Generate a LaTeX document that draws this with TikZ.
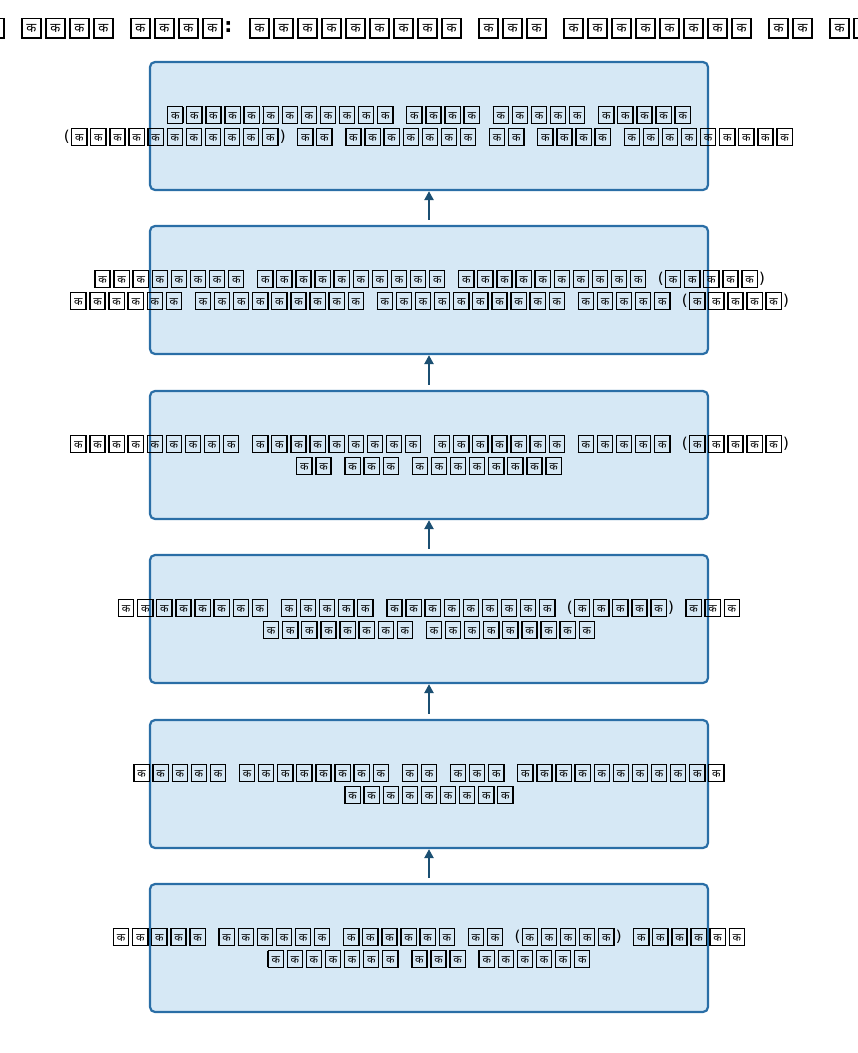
\documentclass[tikz,border=0pt]{standalone}
\usepackage{fontspec}
\setmainfont{DejaVu Sans}
\newfontfamily\devfont[Script=Devanagari]{Noto Sans}
\usetikzlibrary{arrows.meta}
\definecolor{boxfill}{HTML}{D6E8F5}
\definecolor{boxdraw}{HTML}{2A6EA6}
\definecolor{arrowc}{HTML}{1B4F72}
% missing-glyph box as printed in the reference (body size)
\newcommand\gk{\kern1.3pt\relax{\fboxrule=1.3pt\fboxsep=0pt\fbox{\makebox[13.9pt][c]{\rule[-3.5pt]{0pt}{15.1pt}\devfont\fontsize{11}{11}\selectfont क}}}\kern1.3pt\relax}
% missing-glyph box, title size
\newcommand\gK{\kern1.5pt\relax{\fboxrule=1.8pt\fboxsep=0pt\fbox{\makebox[17.4pt][c]{\rule[-4pt]{0pt}{17.4pt}\devfont\fontsize{13}{13}\selectfont क}}}\kern1.5pt\relax}
\ExplSyntaxOn
\NewDocumentCommand\kw{m}{\prg_replicate:nn{#1}{\gk}}
\NewDocumentCommand\Kw{m}{\prg_replicate:nn{#1}{\gK}}
\ExplSyntaxOff
\tikzset{
  stepbox/.style={rectangle, rounded corners=5pt, minimum width=558pt, minimum height=128pt,
    draw=boxdraw, fill=boxfill, line width=2.2pt, inner sep=0pt},
  txt/.style={align=center, inner sep=0pt, text=black,
    font={\fontsize{15}{22}\selectfont\spaceskip=10pt\relax}},
  ttl/.style={inner sep=0pt, text=black,
    font={\fontsize{20}{24}\selectfont\bfseries\spaceskip=13pt\relax}},
  arr/.style={draw=arrowc, line width=2.6pt, -{Triangle[length=9pt,width=9pt]}}
}
\begin{document}
\begin{tikzpicture}[x=1pt,y=-1pt]
\clip (0,0) rectangle (858,1053);
\node[ttl] (title) at (429,28) {\Kw2 \Kw4 \Kw4: \Kw9 \Kw3 \Kw8 \Kw2 \Kw3};
\node[stepbox] (b1) at (429,126) {};
\node[stepbox] (b2) at (429,290) {};
\node[stepbox] (b3) at (429,455) {};
\node[stepbox] (b4) at (429,619) {};
\node[stepbox] (b5) at (429,784) {};
\node[stepbox] (b6) at (429,948) {};
\node[txt] (t1) at (b1.center) {\kw{12} \kw4 \kw5 \kw5\\(\kw{11}) \kw2 \kw7 \kw2 \kw4 \kw9};
\node[txt] (t2) at (b2.center) {\kw8 \kw{10} \kw{10} (\kw5)\\\kw6 \kw9 \kw{10} \kw5 (\kw5)};
\node[txt] (t3) at (b3.center) {\kw9 \kw9 \kw7 \kw5 (\kw5)\\\kw2 \kw3 \kw8};
\node[txt] (t4) at (b4.center) {\kw8 \kw5 \kw9 (\kw5) \kw3\\\kw8 \kw9};
\node[txt] (t5) at (b5.center) {\kw5 \kw8 \kw2 \kw3 \kw{11}\\\kw9};
\node[txt] (t6) at (b6.center) {\kw5 \kw6 \kw6 \kw2 (\kw5) \kw6\\\kw7 \kw3 \kw6};
\draw[arr] ([yshift=5pt]b6.north) -- (b5.south);
\draw[arr] ([yshift=5pt]b5.north) -- (b4.south);
\draw[arr] ([yshift=5pt]b4.north) -- (b3.south);
\draw[arr] ([yshift=5pt]b3.north) -- (b2.south);
\draw[arr] ([yshift=5pt]b2.north) -- (b1.south);
\end{tikzpicture}
\end{document}
